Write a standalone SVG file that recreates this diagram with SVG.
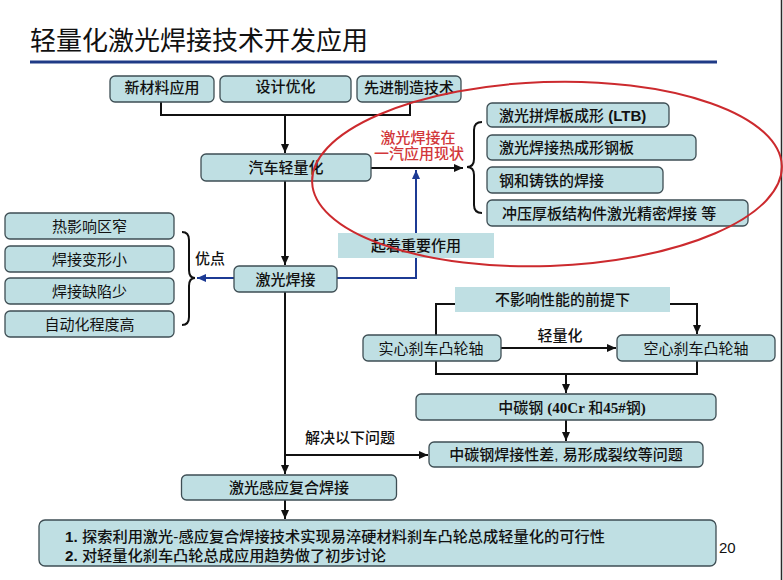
<svg xmlns="http://www.w3.org/2000/svg" width="783" height="580" viewBox="0 0 783 580">
<style>
  text { font-family: "Liberation Sans", "Noto Sans CJK SC", sans-serif; font-size: 15px; fill: #111; }
  .t { font-weight: 500; }
  .c { text-anchor: middle; }
  .box { fill: #bfdfe3; stroke: #3e4e54; stroke-width: 1.3; }
  .flat { fill: #bfdfe3; stroke: none; }
  .ln { fill: none; stroke: #111; stroke-width: 2; }
  .bl { fill: none; stroke: #1c3a94; stroke-width: 2; }
  .red { fill: #d2373a; }
  .ser { font-family: "Liberation Serif", "Noto Sans CJK SC", serif; font-weight: bold; }
</style>
<defs>
  <marker id="ah" markerUnits="userSpaceOnUse" markerWidth="10" markerHeight="10" viewBox="0 0 10 10" refX="9" refY="5" orient="auto">
    <path d="M0,1 L9,5 L0,9 Z" fill="#111"/>
  </marker>
  <marker id="ahb" markerUnits="userSpaceOnUse" markerWidth="10" markerHeight="10" viewBox="0 0 10 10" refX="9" refY="5" orient="auto">
    <path d="M0,1 L9,5 L0,9 Z" fill="#1c3a94"/>
  </marker>
</defs>

<rect width="783" height="580" fill="#ffffff"/>
<line x1="781.5" y1="0" x2="781.5" y2="580" stroke="#2a2a2a" stroke-width="1.5"/>

<g id="title">
  <text x="30" y="50" style="font-size:26px;font-family:'Noto Sans CJK SC',sans-serif;">轻量化激光焊接技术开发应用</text>
  <line x1="30" y1="62" x2="717" y2="62" stroke="#1f3a86" stroke-width="3"/>
</g>

<g id="connectors">
  <path class="ln" d="M161,102 V115 H410 V102"/>
  <path class="ln" d="M285,115 V153" marker-end="url(#ah)"/>
  <path class="ln" d="M371,168 H463" marker-end="url(#ah)"/>
  <path class="ln" d="M285,181 V265" marker-end="url(#ah)"/>
  <path class="bl" d="M337,278 H416 V170" marker-end="url(#ahb)"/>
  <path class="bl" d="M234,278 H197" marker-end="url(#ahb)"/>
  <path class="ln" d="M285,292 V474" marker-end="url(#ah)"/>
  <path class="ln" d="M285,455 H428" marker-end="url(#ah)"/>
  <path class="ln" d="M285,500 V519" marker-end="url(#ah)"/>
  <path class="ln" d="M436,335 V304 H697 V334" marker-end="url(#ah)"/>
  <path class="ln" d="M501,348 H616" marker-end="url(#ah)"/>
  <path class="ln" d="M436,361 V374 H697 V361"/>
  <path class="ln" d="M566,374 V393" marker-end="url(#ah)"/>
  <path class="ln" d="M566,420 V441" marker-end="url(#ah)"/>
  <path class="ln" d="M482,122 Q474,122 474,130 V159 Q474,167 467,167 Q474,167 474,175 V205 Q474,213 482,213"/>
  <path class="ln" d="M182,232 Q189,232 189,240 V270 Q189,278 195,278 Q189,278 189,286 V317 Q189,325 182,325"/>
  <text x="305" y="443" class="t">解决以下问题</text>
  <text x="560" y="341" class="t c">轻量化</text>
  <text x="195" y="264" class="t">优点</text>
  <text x="418" y="143" class="t c red">激光焊接在</text>
  <text x="419" y="159" class="t c red">一汽应用现状</text>
</g>

<g id="n-xincailiao"><rect class="box" x="110" y="76" width="104" height="26" rx="5"/><text x="162" y="93" class="t c">新材料应用</text></g>
<g id="n-sheji"><rect class="box" x="220" y="76" width="131" height="26" rx="5"/><text x="285.5" y="92" class="t c">设计优化</text></g>
<g id="n-xianjin"><rect class="box" x="357" y="76" width="104" height="26" rx="5"/><text x="409" y="93" class="t c">先进制造技术</text></g>

<g id="n-qiche"><rect class="box" x="201" y="154" width="170" height="27" rx="5"/><text x="286" y="173" class="t c">汽车轻量化</text></g>
<g id="n-jiguang"><rect class="box" x="234" y="266" width="103" height="26" rx="5"/><text x="285.5" y="284.5" class="t c">激光焊接</text></g>

<g id="n-ltb"><rect class="box" x="487" y="103" width="182" height="24" rx="5"/><text x="499" y="120.5" class="t">激光拼焊板成形 <tspan font-weight="bold">(LTB)</tspan></text></g>
<g id="n-rechengxing"><rect class="box" x="487" y="135" width="209" height="25" rx="5"/><text x="499" y="152.5" class="t">激光焊接热成形钢板</text></g>
<g id="n-zhutie"><rect class="box" x="487" y="167" width="176" height="26" rx="5"/><text x="499" y="185.5" class="t">钢和铸铁的焊接</text></g>
<g id="n-chongya"><rect class="box" x="487" y="200" width="261" height="26" rx="5"/><text x="502" y="218.5" class="t">冲压厚板结构件激光精密焊接 等</text></g>

<g id="n-qizhe"><rect class="flat" x="338" y="233" width="156" height="25"/><text x="416" y="251" class="t c">起着重要作用</text></g>

<g id="n-rying"><rect class="box" x="5" y="213" width="169" height="26" rx="5"/><text x="89.5" y="231.5" class="c">热影响区窄</text></g>
<g id="n-bianxing"><rect class="box" x="5" y="246" width="169" height="26" rx="5"/><text x="89.5" y="264.5" class="c">焊接变形小</text></g>
<g id="n-quexian"><rect class="box" x="5" y="278" width="169" height="26" rx="5"/><text x="89.5" y="296.5" class="c">焊接缺陷少</text></g>
<g id="n-zidong"><rect class="box" x="5" y="311" width="169" height="26" rx="5"/><text x="89.5" y="329.5" class="c">自动化程度高</text></g>

<g id="n-buying"><rect class="flat" x="455" y="287" width="215" height="25"/><text x="562.5" y="305" class="t c">不影响性能的前提下</text></g>
<g id="n-shixin"><rect class="box" x="363" y="335" width="138" height="26" rx="5"/><text x="431" y="353.5" class="c">实心刹车凸轮轴</text></g>
<g id="n-kongxin"><rect class="box" x="617" y="335" width="158" height="26" rx="5"/><text x="696" y="353.5" class="c">空心刹车凸轮轴</text></g>
<g id="n-zhongtan"><rect class="box" x="416" y="394" width="300" height="26" rx="5"/><text x="572" y="412.5" class="t c">中碳钢 <tspan class="ser">(40Cr </tspan>和<tspan class="ser">45#</tspan>钢<tspan class="ser">)</tspan></text></g>
<g id="n-wenti"><rect class="box" x="429" y="442" width="274" height="25" rx="5"/><text x="566" y="460" class="t c">中碳钢焊接性差, 易形成裂纹等问题</text></g>

<g id="n-ganying"><rect class="box" x="181.5" y="475" width="215" height="25" rx="5"/><text x="289" y="493" class="t c">激光感应复合焊接</text></g>
<g id="n-jielun"><rect class="box" x="39" y="520" width="677" height="46" rx="6"/>
  <text x="65" y="542" class="t" textLength="540" lengthAdjust="spacingAndGlyphs"><tspan font-weight="bold">1.</tspan> 探索利用激光-感应复合焊接技术实现易淬硬材料刹车凸轮总成轻量化的可行性</text>
  <text x="65" y="561" class="t" textLength="321" lengthAdjust="spacingAndGlyphs"><tspan font-weight="bold">2.</tspan> 对轻量化刹车凸轮总成应用趋势做了初步讨论</text>
</g>
<text x="719" y="553" style="font-size:15px">20</text>

<ellipse cx="547" cy="174" rx="235" ry="92" transform="rotate(-2 547 174)" fill="none" stroke="#cc2a2e" stroke-width="2"/>
</svg>
